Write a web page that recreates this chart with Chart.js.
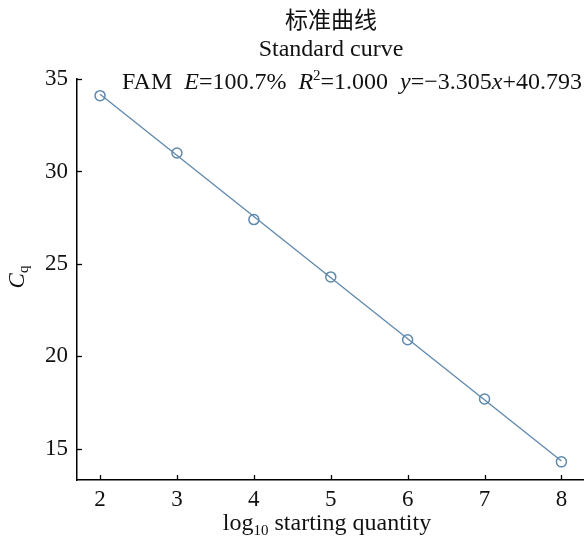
<!DOCTYPE html>
<html><head><meta charset="utf-8">
<script src="https://cdn.jsdelivr.net/npm/chart.js@4.4.0/dist/chart.umd.min.js"></script>
<style>html,body{margin:0;padding:0;background:#fff;overflow:hidden}#wrap{width:584px;height:544px;overflow:hidden}</style>
</head><body><div id="wrap"><canvas id="c" width="591" height="544"></canvas></div>
<script>
const xValues = [2, 3, 4, 5, 6, 7, 8];
const cqValues = [34.1, 31.0, 27.4, 24.3, 20.9, 17.7, 14.3];
const fitX = [2, 8];
const fitY = [34.18, 14.35];
const xTicks = [2, 3, 4, 5, 6, 7, 8];
const yTicks = [15, 20, 25, 30, 35];
const titleZh = '标准曲线';
const titleEn = 'Standard curve';

const SERIF = '"Liberation Serif", "DejaVu Serif", serif';
const COLOR = '#5f88ad';

const decor = {
  id: 'decor',
  afterDraw(chart) {
    const ctx = chart.ctx;
    const xs = chart.scales.x, ys = chart.scales.y;
    ctx.save();
    // inward ticks
    ctx.strokeStyle = '#000'; ctx.lineWidth = 1.3;
    xTicks.forEach(v => {
      const px = Math.round(xs.getPixelForValue(v)) + 0.5;
      ctx.beginPath(); ctx.moveTo(px, ys.bottom); ctx.lineTo(px, ys.bottom - 5); ctx.stroke();
    });
    yTicks.forEach(v => {
      const py = Math.round(ys.getPixelForValue(v)) + 0.5;
      ctx.beginPath(); ctx.moveTo(xs.left, py); ctx.lineTo(xs.left + 5, py); ctx.stroke();
    });
    ctx.fillStyle = '#111';
    ctx.textBaseline = 'alphabetic';
    // titles
    ctx.textAlign = 'center';
    ctx.font = '23px "Noto Sans CJK SC", sans-serif';
    ctx.fillText(titleZh, 331, 28);
    ctx.font = '24px ' + SERIF;
    ctx.fillText(titleEn, 331, 56);
    // annotation
    ctx.textAlign = 'left';
    const parts = [
      ['FAM  ', '', 0], ['E', 'italic ', 0], ['=100.7%  ', '', 0],
      ['R', 'italic ', 0], ['2', '', 1], ['=1.000  ', '', 0],
      ['y', 'italic ', 0], ['=\u22123.305', '', 0], ['x', 'italic ', 0], ['+40.793', '', 0]
    ];
    let x = 122; const base = 89;
    parts.forEach(([t, st, sup]) => {
      if (sup) { ctx.font = '15px ' + SERIF; ctx.fillText(t, x, base - 9); }
      else { ctx.font = st + '24px ' + SERIF; ctx.fillText(t, x, base); }
      x += ctx.measureText(t).width;
    });
    // x title
    ctx.font = '24px ' + SERIF;
    const a = 'log', b = '10', c = ' starting quantity';
    const wa = ctx.measureText(a).width, wc = ctx.measureText(c).width;
    ctx.font = '15px ' + SERIF; const wb = ctx.measureText(b).width;
    let sx = 327 - (wa + wb + wc) / 2;
    ctx.font = '24px ' + SERIF; ctx.fillText(a, sx, 530); sx += wa;
    ctx.font = '15px ' + SERIF; ctx.fillText(b, sx, 535); sx += wb;
    ctx.font = '24px ' + SERIF; ctx.fillText(c, sx, 530);
    // y title
    ctx.translate(24, 277); ctx.rotate(-Math.PI / 2);
    ctx.font = 'italic 23px ' + SERIF;
    const wC = ctx.measureText('C').width;
    ctx.font = '15px ' + SERIF; const wq = ctx.measureText('q').width;
    let ty = -(wC + wq) / 2;
    ctx.font = 'italic 23px ' + SERIF; ctx.fillText('C', ty, 0); ty += wC;
    ctx.font = '15px ' + SERIF; ctx.fillText('q', ty, 4);
    ctx.restore();
  }
};

new Chart(document.getElementById('c'), {
  type: 'scatter',
  data: {
    datasets: [
      { type: 'line', data: fitX.map((v, i) => ({ x: v, y: fitY[i] })), borderColor: COLOR, borderWidth: 1.3, pointRadius: 0, fill: false, order: 2 },
      { data: xValues.map((v, i) => ({ x: v, y: cqValues[i] })), pointStyle: 'circle', pointRadius: 5, borderColor: COLOR, backgroundColor: 'rgba(255,255,255,0)', borderWidth: 1.5, order: 1 }
    ]
  },
  options: {
    responsive: false, animation: false, devicePixelRatio: 1,
    layout: { padding: { top: 79, right: 0, left: 0, bottom: 0 } },
    plugins: { legend: { display: false }, tooltip: { enabled: false }, title: { display: false } },
    scales: {
      x: {
        type: 'linear', min: 1.7, max: 8.3,
        grid: { display: false, drawTicks: false },
        border: { display: true, color: '#000', width: 1.5 },
        afterBuildTicks: s => { s.ticks = xTicks.map(v => ({ value: v })); },
        afterFit: s => { s.height = 64; s.paddingLeft = 0; s.paddingRight = 0; },
        ticks: { padding: 6, color: '#111', font: { family: SERIF, size: 23 }, maxRotation: 0, autoSkip: false }
      },
      y: {
        type: 'linear', min: 13.32, max: 35,
        grid: { display: false, drawTicks: false },
        border: { display: true, color: '#000', width: 1.5 },
        afterBuildTicks: s => { s.ticks = yTicks.map(v => ({ value: v })); },
        afterFit: s => { s.width = 77; s.paddingTop = 0; s.paddingBottom = 0; },
        ticks: { padding: 9, color: '#111', font: { family: SERIF, size: 23 }, autoSkip: false }
      }
    }
  },
  plugins: [decor]
});
</script></body></html>
